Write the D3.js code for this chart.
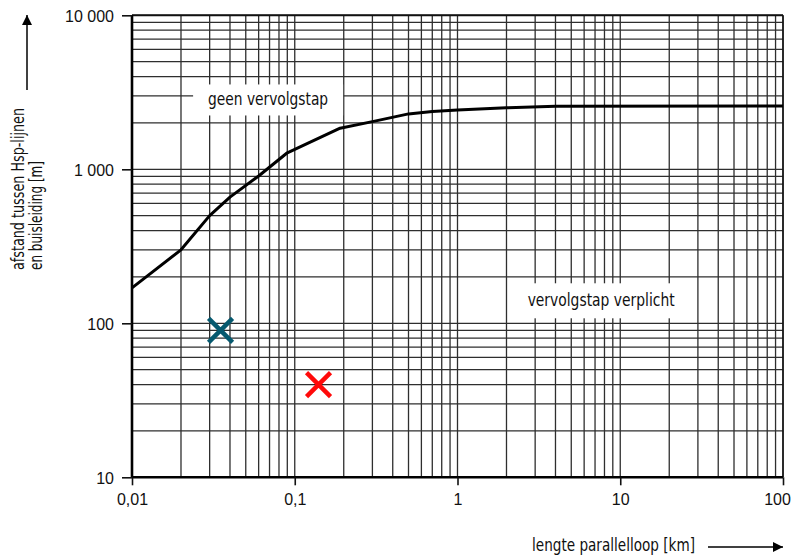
<!DOCTYPE html>
<html lang="nl">
<head>
<meta charset="utf-8">
<title>Afstand Hsp-lijnen en buisleiding</title>
<script src="https://d3js.org/d3.v7.min.js"></script>
<style>
  body { margin: 0; background: #fff; }
  svg { display: block; }
  .tick-label { font-family: "Liberation Sans Narrow", "Arial Narrow", "Liberation Sans", sans-serif; font-size: 16px; fill: #111; }
  .title { font-family: "DejaVu Sans Condensed", "DejaVu Sans", sans-serif; font-size: 18px; fill: #111; }
</style>
</head>
<body>
<svg width="794" height="558"></svg>
<script>
// values
const xTickValues = [0.01, 0.1, 1, 10, 100];
const xTickLabels = ["0,01", "0,1", "1", "10", "100"];
const yTickValues = [10, 100, 1000, 10000];
const yTickLabels = ["10", "100", "1 000", "10 000"];

// grens-curve (km, m)
const curveX = [0.01, 0.02, 0.03, 0.04, 0.06, 0.09, 0.19, 0.3, 0.5, 0.7, 1, 2, 4, 100];
const curveY = [170, 300, 500, 660, 905, 1280, 1850, 2040, 2290, 2370, 2430, 2510, 2570, 2580];

// markeringen
const markX = [0.035, 0.14];
const markY = [90, 40];
const markColor = ["#06596f", "#ff0a0a"];

// tekstvakken in het diagram
const areaText = ["geen vervolgstap", "vervolgstap verplicht"];
const areaX = [0.0686, 7.63];
const areaY = [2820, 140];

const svg = d3.select("svg");
const x = d3.scaleLog().domain([0.01, 100]).range([132, 783]);
const y = d3.scaleLog().domain([10, 10000]).range([477.3, 15.3]);

// grid: 1..9 per decade
const grid = svg.append("g");
grid.selectAll("line.v")
    .data(x.ticks())
    .enter().append("line")
    .attr("x1", d => x(d)).attr("x2", d => x(d))
    .attr("y1", y(10000)).attr("y2", y(10))
    .style("stroke", "#2e2e2e").style("stroke-width", 1.3);
grid.selectAll("line.h")
    .data(y.ticks())
    .enter().append("line")
    .attr("y1", d => y(d)).attr("y2", d => y(d))
    .attr("x1", x(0.01)).attr("x2", x(100))
    .style("stroke", "#2e2e2e").style("stroke-width", 1.3);

// white boxes behind the area texts
const boxW = [150, 178], boxH = [31, 35];
svg.selectAll("rect.box")
    .data(areaText)
    .enter().append("rect")
    .attr("x", (d, i) => x(areaX[i]) - boxW[i] / 2)
    .attr("y", (d, i) => y(areaY[i]) - boxH[i] / 2)
    .attr("width", (d, i) => boxW[i])
    .attr("height", (d, i) => boxH[i])
    .style("fill", "#fff");
svg.selectAll("text.area")
    .data(areaText)
    .enter().append("text")
    .attr("class", "title")
    .attr("x", (d, i) => x(areaX[i]))
    .attr("y", (d, i) => y(areaY[i]) + 5)
    .attr("text-anchor", "middle")
    .attr("textLength", (d, i) => [120, 147][i])
    .attr("lengthAdjust", "spacingAndGlyphs")
    .text(d => d);

// frame
svg.append("line").attr("x1", x(0.01)).attr("x2", x(100)).attr("y1", y(10000)).attr("y2", y(10000))
   .style("stroke", "#111").style("stroke-width", 2);
svg.append("line").attr("x1", x(100)).attr("x2", x(100)).attr("y1", y(10000)).attr("y2", y(10))
   .style("stroke", "#111").style("stroke-width", 1.5);

// axes
const xAxis = d3.axisBottom(x).tickValues(xTickValues).tickSize(8).tickPadding(8)
    .tickFormat((d, i) => xTickLabels[i]);
const gx = svg.append("g").attr("transform", `translate(0,${y(10)})`).call(xAxis);
const yAxis = d3.axisLeft(y).tickValues(yTickValues).tickSize(10).tickPadding(8)
    .tickFormat((d, i) => yTickLabels[i]);
const gy = svg.append("g").attr("transform", `translate(${x(0.01)},0)`).call(yAxis);
[gx, gy].forEach(g => {
  g.select(".domain").style("stroke", "#000").style("stroke-width", 2.6);
  g.selectAll(".tick line").style("stroke", "#111").style("stroke-width", 1.6);
  g.selectAll(".tick text").attr("class", "tick-label").style("font-size", null).style("font-family", null);
});
gx.select(".domain").attr("d", `M${x(0.01)},0H${x(100)}`);
gy.select(".domain").attr("d", `M0,${y(10000)}V${y(10)}`);
gy.selectAll(".tick text").attr("dy", "0.36em");
// last x label sits against the page edge
gx.selectAll(".tick text").filter(d => d === 100).attr("dx", -6);

// curve
const line = d3.line()
    .x((d, i) => x(curveX[i]))
    .y(d => y(d));
svg.append("path")
    .datum(curveY)
    .attr("d", line)
    .style("fill", "none")
    .style("stroke", "#000")
    .style("stroke-width", 3)
    .style("stroke-linejoin", "round");

// crosses
const half = 12;
const marks = svg.selectAll("g.mark")
    .data(markX)
    .enter().append("g")
    .attr("transform", (d, i) => `translate(${x(d)},${y(markY[i])})`);
marks.append("path")
    .attr("d", `M${-half},${-half}L${half},${half}M${-half},${half}L${half},${-half}`)
    .style("stroke", (d, i) => markColor[i])
    .style("stroke-width", 4.5)
    .style("fill", "none");

// axis titles
const defs = svg.append("defs");
defs.append("marker").attr("id", "arrow")
    .attr("viewBox", "0 0 10 10").attr("refX", 10).attr("refY", 5)
    .attr("markerWidth", 10).attr("markerHeight", 10).attr("markerUnits", "userSpaceOnUse")
    .attr("orient", "auto")
    .append("path").attr("d", "M0,0L10,5L0,10Z").style("fill", "#000");

svg.append("text").attr("class", "title")
    .attr("transform", "translate(24,270) rotate(-90)")
    .attr("textLength", 162).attr("lengthAdjust", "spacingAndGlyphs")
    .text("afstand tussen Hsp-lijnen");
svg.append("text").attr("class", "title")
    .attr("transform", "translate(42,270) rotate(-90)")
    .attr("textLength", 109).attr("lengthAdjust", "spacingAndGlyphs")
    .text("en buisleiding [m]");
svg.append("line")
    .attr("x1", 27).attr("x2", 27).attr("y1", 90).attr("y2", 15)
    .style("stroke", "#000").style("stroke-width", 1.5)
    .attr("marker-end", "url(#arrow)");

svg.append("text").attr("class", "title")
    .attr("x", 532).attr("y", 551)
    .attr("textLength", 163).attr("lengthAdjust", "spacingAndGlyphs")
    .text("lengte parallelloop [km]");
svg.append("line")
    .attr("x1", 708).attr("x2", 783).attr("y1", 547).attr("y2", 547)
    .style("stroke", "#000").style("stroke-width", 1.5)
    .attr("marker-end", "url(#arrow)");
</script>
</body>
</html>
